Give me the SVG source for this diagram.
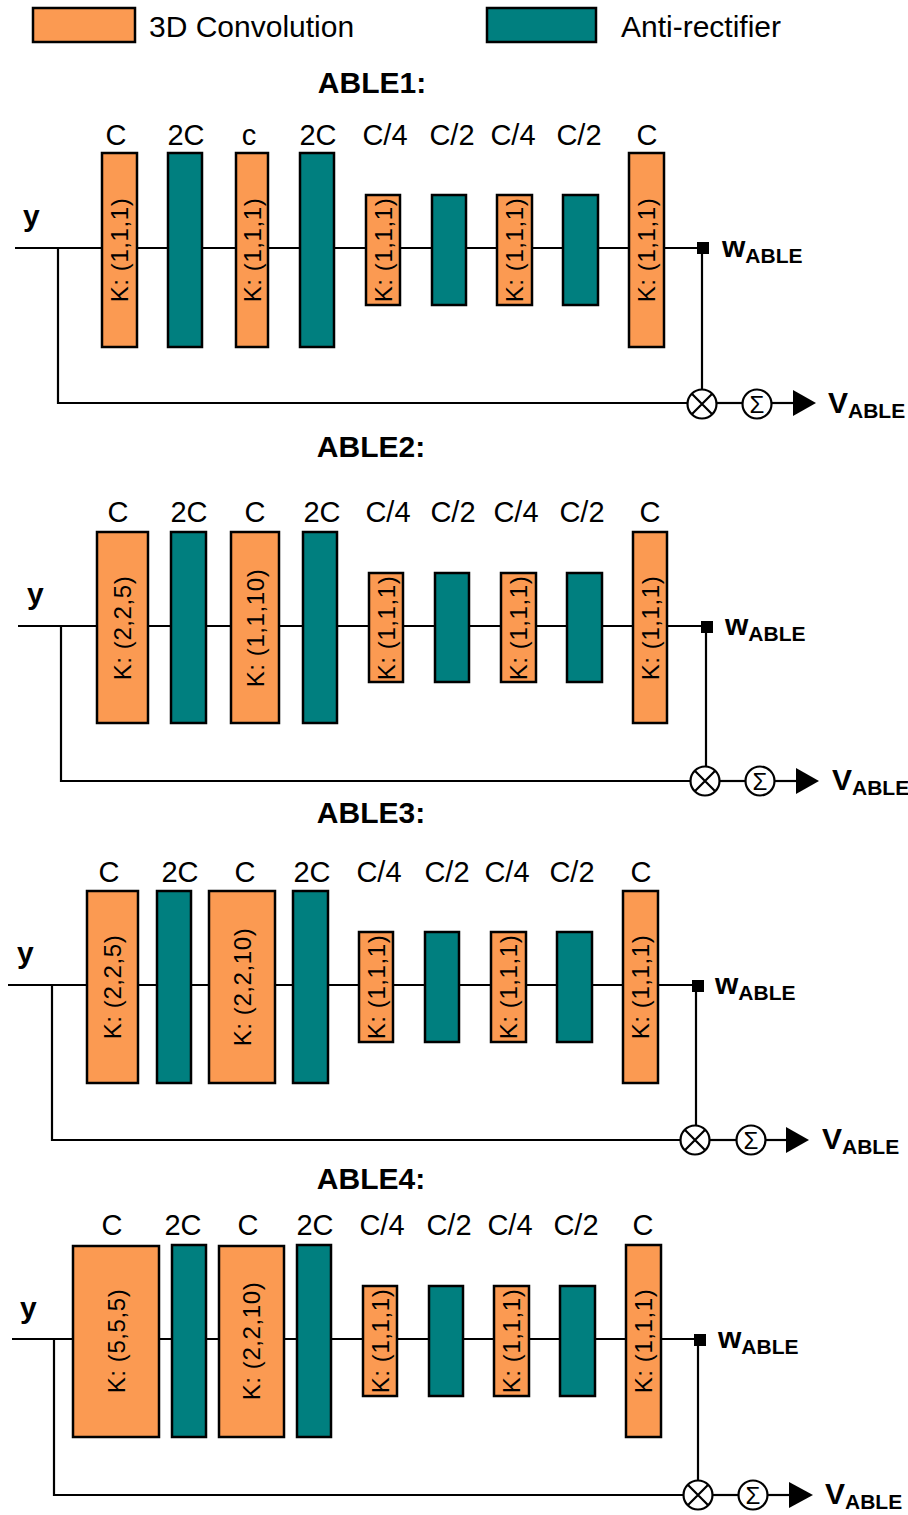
<svg xmlns="http://www.w3.org/2000/svg" width="908" height="1515" viewBox="0 0 908 1515">
<style>
.conv{fill:#FB9A52;stroke:#000;stroke-width:2.5}
.anti{fill:#007F7F;stroke:#000;stroke-width:2.5}
.wire{fill:none;stroke:#000;stroke-width:2.2}
.op{fill:#fff;stroke:#000;stroke-width:2.2}
.tri{fill:#000}
.sq{fill:#000}
text{font-family:"Liberation Sans",Arial,sans-serif;fill:#000}
.leg{font-size:30px}
.title{font-size:30px;font-weight:bold;text-anchor:middle}
.lbl{font-size:29px;text-anchor:middle}
.k{font-size:24px;text-anchor:middle;letter-spacing:0.6px}
.y{font-size:30px;font-weight:bold}
.out{font-size:30px;font-weight:bold}
.sub{font-size:21px}
.sig{font-size:24px;text-anchor:middle}
</style>
<defs>
<g id="mul"><circle class="op" r="14.5"/><path class="wire" d="M-10.2,-10.2L10.2,10.2M-10.2,10.2L10.2,-10.2"/></g>
<g id="sum"><circle class="op" r="14.5"/><text class="sig" y="8.5">Σ</text></g>
</defs>

<g id="legend">
<rect class="conv" x="33" y="8" width="102" height="34"/>
<text class="leg" x="149" y="37">3D Convolution</text>
<rect class="anti" x="487" y="8" width="109" height="34"/>
<text class="leg" x="621" y="37">Anti-rectifier</text>
</g>

<!-- ===== ABLE1 ===== -->
<g id="connectors-able1">
<path class="wire" d="M15,248H703"/>
<path class="wire" d="M58,248V403H688"/>
<path class="wire" d="M702,254V390"/>
<path class="wire" d="M716,403H743"/>
<path class="wire" d="M771,403H795"/>
<polygon class="tri" points="793,390 816,403 793,416"/>
</g>
<g id="able1">
<text class="title" x="372" y="93">ABLE1:</text>
<text class="y" x="23" y="226">y</text>
<g id="a1-c1"><rect class="conv" x="102" y="153" width="35" height="194"/><text class="k" transform="translate(119.5,250) rotate(-90)" dy="8.5">K: (1,1,1)</text><text class="lbl" x="116" y="145">C</text></g>
<g id="a1-a1"><rect class="anti" x="168" y="153" width="34" height="194"/><text class="lbl" x="186" y="145">2C</text></g>
<g id="a1-c2"><rect class="conv" x="236" y="153" width="32" height="194"/><text class="k" transform="translate(252,250) rotate(-90)" dy="8.5">K: (1,1,1)</text><text class="lbl" x="249" y="145">c</text></g>
<g id="a1-a2"><rect class="anti" x="300" y="153" width="34" height="194"/><text class="lbl" x="318" y="145">2C</text></g>
<g id="a1-c3"><rect class="conv" x="366" y="195" width="34" height="110"/><text class="k" transform="translate(383,250) rotate(-90)" dy="8.5">K: (1,1,1)</text><text class="lbl" x="385" y="145">C/4</text></g>
<g id="a1-a3"><rect class="anti" x="432" y="195" width="34" height="110"/><text class="lbl" x="452" y="145">C/2</text></g>
<g id="a1-c4"><rect class="conv" x="497" y="195" width="35" height="110"/><text class="k" transform="translate(514.5,250) rotate(-90)" dy="8.5">K: (1,1,1)</text><text class="lbl" x="513" y="145">C/4</text></g>
<g id="a1-a4"><rect class="anti" x="563" y="195" width="35" height="110"/><text class="lbl" x="579" y="145">C/2</text></g>
<g id="a1-c5"><rect class="conv" x="629" y="153" width="35" height="194"/><text class="k" transform="translate(646.5,250) rotate(-90)" dy="8.5">K: (1,1,1)</text><text class="lbl" x="647" y="145">C</text></g>
<g id="a1-w"><rect class="sq" x="697" y="242" width="12" height="12"/><text class="out" x="722" y="257">w<tspan class="sub" dy="6">ABLE</tspan></text></g>
<g id="a1-mul"><use href="#mul" x="702" y="404"/></g>
<g id="a1-sum"><use href="#sum" x="757" y="404"/></g>
<g id="a1-v"><text class="out" x="828" y="413">V<tspan class="sub" dy="5">ABLE</tspan></text></g>
</g>

<!-- ===== ABLE2 ===== -->
<g id="connectors-able2">
<path class="wire" d="M18,626H707"/>
<path class="wire" d="M61,626V781H691"/>
<path class="wire" d="M706,633V767"/>
<path class="wire" d="M719,781H746"/>
<path class="wire" d="M774,781H798"/>
<polygon class="tri" points="796,768 819,781 796,794"/>
</g>
<g id="able2">
<text class="title" x="371" y="457">ABLE2:</text>
<text class="y" x="27" y="604">y</text>
<g id="a2-c1"><rect class="conv" x="97" y="532" width="51" height="191"/><text class="k" transform="translate(122.5,628) rotate(-90)" dy="8.5">K: (2,2,5)</text><text class="lbl" x="118" y="522">C</text></g>
<g id="a2-a1"><rect class="anti" x="171" y="532" width="35" height="191"/><text class="lbl" x="189" y="522">2C</text></g>
<g id="a2-c2"><rect class="conv" x="231" y="532" width="48" height="191"/><text class="k" transform="translate(255,628) rotate(-90)" dy="8.5">K: (1,1,10)</text><text class="lbl" x="255" y="522">C</text></g>
<g id="a2-a2"><rect class="anti" x="303" y="532" width="34" height="191"/><text class="lbl" x="322" y="522">2C</text></g>
<g id="a2-c3"><rect class="conv" x="369" y="573" width="34" height="109"/><text class="k" transform="translate(386,628) rotate(-90)" dy="8.5">K: (1,1,1)</text><text class="lbl" x="388" y="522">C/4</text></g>
<g id="a2-a3"><rect class="anti" x="435" y="573" width="34" height="109"/><text class="lbl" x="453" y="522">C/2</text></g>
<g id="a2-c4"><rect class="conv" x="501" y="573" width="35" height="109"/><text class="k" transform="translate(518.5,628) rotate(-90)" dy="8.5">K: (1,1,1)</text><text class="lbl" x="516" y="522">C/4</text></g>
<g id="a2-a4"><rect class="anti" x="567" y="573" width="35" height="109"/><text class="lbl" x="582" y="522">C/2</text></g>
<g id="a2-c5"><rect class="conv" x="633" y="532" width="34" height="191"/><text class="k" transform="translate(650,628) rotate(-90)" dy="8.5">K: (1,1,1)</text><text class="lbl" x="650" y="522">C</text></g>
<g id="a2-w"><rect class="sq" x="701" y="621" width="12" height="12"/><text class="out" x="725" y="635">w<tspan class="sub" dy="6">ABLE</tspan></text></g>
<g id="a2-mul"><use href="#mul" x="705" y="781"/></g>
<g id="a2-sum"><use href="#sum" x="760" y="781"/></g>
<g id="a2-v"><text class="out" x="832" y="790">V<tspan class="sub" dy="5">ABLE</tspan></text></g>
</g>

<!-- ===== ABLE3 ===== -->
<g id="connectors-able3">
<path class="wire" d="M8,985H698"/>
<path class="wire" d="M52,985V1140H681"/>
<path class="wire" d="M696,992V1126"/>
<path class="wire" d="M709,1140H737"/>
<path class="wire" d="M765,1140H788"/>
<polygon class="tri" points="786,1127 809,1140 786,1153"/>
</g>
<g id="able3">
<text class="title" x="371" y="823">ABLE3:</text>
<text class="y" x="17" y="963">y</text>
<g id="a3-c1"><rect class="conv" x="87" y="891" width="51" height="192"/><text class="k" transform="translate(112.5,987) rotate(-90)" dy="8.5">K: (2,2,5)</text><text class="lbl" x="109" y="882">C</text></g>
<g id="a3-a1"><rect class="anti" x="157" y="891" width="34" height="192"/><text class="lbl" x="180" y="882">2C</text></g>
<g id="a3-c2"><rect class="conv" x="209" y="891" width="66" height="192"/><text class="k" transform="translate(242,987) rotate(-90)" dy="8.5">K: (2,2,10)</text><text class="lbl" x="245" y="882">C</text></g>
<g id="a3-a2"><rect class="anti" x="293" y="891" width="35" height="192"/><text class="lbl" x="312" y="882">2C</text></g>
<g id="a3-c3"><rect class="conv" x="359" y="932" width="34" height="110"/><text class="k" transform="translate(376,987) rotate(-90)" dy="8.5">K: (1,1,1)</text><text class="lbl" x="379" y="882">C/4</text></g>
<g id="a3-a3"><rect class="anti" x="425" y="932" width="34" height="110"/><text class="lbl" x="447" y="882">C/2</text></g>
<g id="a3-c4"><rect class="conv" x="491" y="932" width="35" height="110"/><text class="k" transform="translate(508.5,987) rotate(-90)" dy="8.5">K: (1,1,1)</text><text class="lbl" x="507" y="882">C/4</text></g>
<g id="a3-a4"><rect class="anti" x="557" y="932" width="35" height="110"/><text class="lbl" x="572" y="882">C/2</text></g>
<g id="a3-c5"><rect class="conv" x="623" y="891" width="35" height="192"/><text class="k" transform="translate(640.5,987) rotate(-90)" dy="8.5">K: (1,1,1)</text><text class="lbl" x="641" y="882">C</text></g>
<g id="a3-w"><rect class="sq" x="692" y="980" width="12" height="12"/><text class="out" x="715" y="994">w<tspan class="sub" dy="6">ABLE</tspan></text></g>
<g id="a3-mul"><use href="#mul" x="695" y="1140"/></g>
<g id="a3-sum"><use href="#sum" x="751" y="1140"/></g>
<g id="a3-v"><text class="out" x="822" y="1149">V<tspan class="sub" dy="5">ABLE</tspan></text></g>
</g>

<!-- ===== ABLE4 ===== -->
<g id="connectors-able4">
<path class="wire" d="M12,1339H700"/>
<path class="wire" d="M54,1339V1495H684"/>
<path class="wire" d="M698,1346V1481"/>
<path class="wire" d="M712,1495H739"/>
<path class="wire" d="M767,1495H791"/>
<polygon class="tri" points="789,1482 813,1495 789,1508"/>
</g>
<g id="able4">
<text class="title" x="371" y="1189">ABLE4:</text>
<text class="y" x="20" y="1318">y</text>
<g id="a4-c1"><rect class="conv" x="73" y="1246" width="86" height="191"/><text class="k" transform="translate(116,1341) rotate(-90)" dy="8.5">K: (5,5,5)</text><text class="lbl" x="112" y="1235">C</text></g>
<g id="a4-a1"><rect class="anti" x="172" y="1245" width="34" height="192"/><text class="lbl" x="183" y="1235">2C</text></g>
<g id="a4-c2"><rect class="conv" x="219" y="1246" width="65" height="191"/><text class="k" transform="translate(251.5,1341) rotate(-90)" dy="8.5">K: (2,2,10)</text><text class="lbl" x="248" y="1235">C</text></g>
<g id="a4-a2"><rect class="anti" x="297" y="1245" width="34" height="192"/><text class="lbl" x="315" y="1235">2C</text></g>
<g id="a4-c3"><rect class="conv" x="363" y="1286" width="34" height="110"/><text class="k" transform="translate(380,1341) rotate(-90)" dy="8.5">K: (1,1,1)</text><text class="lbl" x="382" y="1235">C/4</text></g>
<g id="a4-a3"><rect class="anti" x="429" y="1286" width="34" height="110"/><text class="lbl" x="449" y="1235">C/2</text></g>
<g id="a4-c4"><rect class="conv" x="494" y="1286" width="35" height="110"/><text class="k" transform="translate(511.5,1341) rotate(-90)" dy="8.5">K: (1,1,1)</text><text class="lbl" x="510" y="1235">C/4</text></g>
<g id="a4-a4"><rect class="anti" x="560" y="1286" width="35" height="110"/><text class="lbl" x="576" y="1235">C/2</text></g>
<g id="a4-c5"><rect class="conv" x="626" y="1245" width="35" height="192"/><text class="k" transform="translate(643.5,1341) rotate(-90)" dy="8.5">K: (1,1,1)</text><text class="lbl" x="643" y="1235">C</text></g>
<g id="a4-w"><rect class="sq" x="694" y="1334" width="12" height="12"/><text class="out" x="718" y="1348">w<tspan class="sub" dy="6">ABLE</tspan></text></g>
<g id="a4-mul"><use href="#mul" x="698" y="1495"/></g>
<g id="a4-sum"><use href="#sum" x="753" y="1495"/></g>
<g id="a4-v"><text class="out" x="825" y="1504">V<tspan class="sub" dy="5">ABLE</tspan></text></g>
</g>
</svg>
